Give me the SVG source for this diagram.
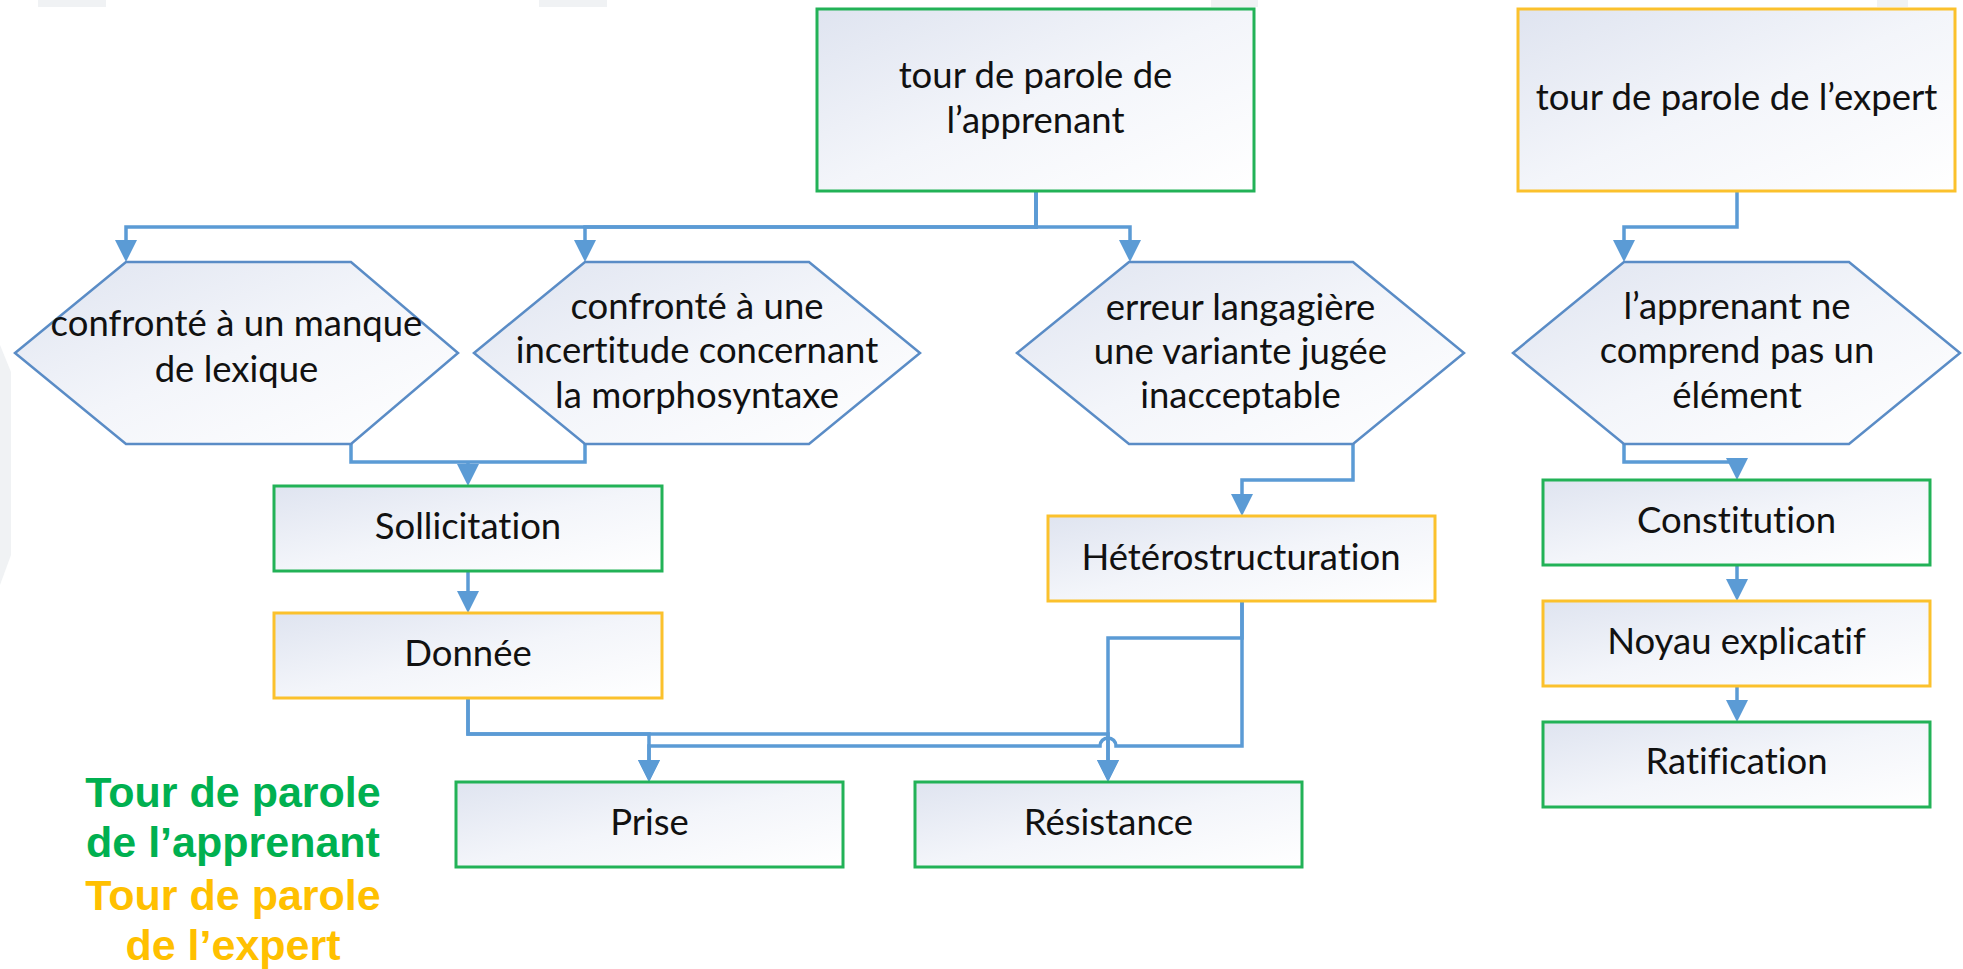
<svg xmlns="http://www.w3.org/2000/svg" width="1963" height="969" viewBox="0 0 1963 969">
<style>
.box{stroke-width:3}
.g{stroke:#22b257}
.y{stroke:#fbc12c}
.hex{stroke:#5a8cc6;stroke-width:2.5}
.t{font-family:Lato,"Liberation Sans",sans-serif;font-size:36.5px;fill:#111;text-anchor:middle;font-variant-ligatures:none}
.conn path{fill:none;stroke:#5b9bd5;stroke-width:3.5;stroke-linejoin:miter}
.leg{font-family:"Liberation Sans",Arial,sans-serif;font-weight:bold;font-size:43px;text-anchor:middle}
.bg{fill:#f0f2f4}
</style>
<defs>
<linearGradient id="fill" x1="0" y1="0" x2="1" y2="1">
<stop offset="0" stop-color="#dfe4f0"/>
<stop offset="0.5" stop-color="#f3f5fa"/>
<stop offset="1" stop-color="#ffffff"/>
</linearGradient>
<marker id="arr" markerUnits="userSpaceOnUse" markerWidth="22" markerHeight="22" refX="14" refY="11" orient="auto">
<path d="M0,0 L22,11 L0,22 Z" fill="#5b9bd5"/>
</marker>
</defs>
<rect width="1963" height="969" fill="#ffffff"/>
<g id="background">
<rect class="bg" x="38" y="0" width="68" height="7"/>
<rect class="bg" x="539" y="0" width="68" height="7"/>
<rect class="bg" x="1211" y="0" width="47" height="7"/>
<rect class="bg" x="1877" y="0" width="31" height="7"/>
<polygon class="bg" points="0,345 11,372 11,555 0,585"/>
</g>

<g class="conn" id="connectors">
<path d="M1036,191 V227 H126 V254" marker-end="url(#arr)"/>
<path d="M1036,191 V227 H585 V254" marker-end="url(#arr)"/>
<path d="M1036,191 V227 H1130 V254" marker-end="url(#arr)"/>
<path d="M1737,191 V227 H1624 V254" marker-end="url(#arr)"/>
<path d="M351,444 V462 H585 V444"/>
<path d="M468,462 V478" marker-end="url(#arr)"/>
<path d="M468,571 V605" marker-end="url(#arr)"/>
<path d="M1353,444 V480 H1242 V508" marker-end="url(#arr)"/>
<path d="M1624,444 V462 H1737 V472" marker-end="url(#arr)"/>
<path d="M1737,565 V593" marker-end="url(#arr)"/>
<path d="M1737,686 V714" marker-end="url(#arr)"/>
<path d="M468,698 V734 H649 V774" marker-end="url(#arr)"/>
<path d="M468,698 V734 H1108 V774" marker-end="url(#arr)"/>
<path d="M1242,601 V638 H1108 V774" marker-end="url(#arr)"/>
<path d="M1242,601 V746 H1116 A8,8 0 0 0 1100,746 H649 V774" marker-end="url(#arr)"/>
</g>

<g id="n-apprenant">
<rect class="box g" x="817" y="9" width="437" height="182" fill="url(#fill)"/>
<text class="t" x="1035.5" y="88">tour de parole de</text>
<text class="t" x="1035.5" y="133">l’apprenant</text>
</g>
<g id="n-expert">
<rect class="box y" x="1518" y="9" width="437" height="182" fill="url(#fill)"/>
<text class="t" x="1736.5" y="110">tour de parole de l’expert</text>
</g>

<g id="n-lexique">
<polygon class="hex" points="126,262 351,262 458,353 351,444 126,444 15,353" fill="url(#fill)"/>
<text class="t" x="236.5" y="336">confronté à un manque</text>
<text class="t" x="236.5" y="382">de lexique</text>
</g>
<g id="n-morpho">
<polygon class="hex" points="585,262 809,262 920,353 809,444 585,444 474,353" fill="url(#fill)"/>
<text class="t" x="697" y="319">confronté à une</text>
<text class="t" x="697" y="363">incertitude concernant</text>
<text class="t" x="697" y="408">la morphosyntaxe</text>
</g>
<g id="n-erreur">
<polygon class="hex" points="1129,262 1353,262 1464,353 1353,444 1129,444 1017,353" fill="url(#fill)"/>
<text class="t" x="1240.5" y="320">erreur langagière</text>
<text class="t" x="1240.5" y="364">une variante jugée</text>
<text class="t" x="1240.5" y="408">inacceptable</text>
</g>
<g id="n-comprend">
<polygon class="hex" points="1624,262 1849,262 1960,353 1849,444 1624,444 1513,353" fill="url(#fill)"/>
<text class="t" x="1737" y="319">l’apprenant ne</text>
<text class="t" x="1737" y="363">comprend pas un</text>
<text class="t" x="1737" y="408">élément</text>
</g>

<g id="n-sollicitation">
<rect class="box g" x="274" y="486" width="388" height="85" fill="url(#fill)"/>
<text class="t" x="468" y="539">Sollicitation</text>
</g>
<g id="n-donnee">
<rect class="box y" x="274" y="613" width="388" height="85" fill="url(#fill)"/>
<text class="t" x="468" y="666">Donnée</text>
</g>
<g id="n-hetero">
<rect class="box y" x="1048" y="516" width="387" height="85" fill="url(#fill)"/>
<text class="t" x="1241" y="570">Hétérostructuration</text>
</g>
<g id="n-prise">
<rect class="box g" x="456" y="782" width="387" height="85" fill="url(#fill)"/>
<text class="t" x="649.5" y="835">Prise</text>
</g>
<g id="n-resistance">
<rect class="box g" x="915" y="782" width="387" height="85" fill="url(#fill)"/>
<text class="t" x="1108.5" y="835">Résistance</text>
</g>
<g id="n-constitution">
<rect class="box g" x="1543" y="480" width="387" height="85" fill="url(#fill)"/>
<text class="t" x="1736.5" y="533">Constitution</text>
</g>
<g id="n-noyau">
<rect class="box y" x="1543" y="601" width="387" height="85" fill="url(#fill)"/>
<text class="t" x="1736.5" y="654">Noyau explicatif</text>
</g>
<g id="n-ratification">
<rect class="box g" x="1543" y="722" width="387" height="85" fill="url(#fill)"/>
<text class="t" x="1736.5" y="774">Ratification</text>
</g>

<g id="legend">
<text class="leg" x="233" y="807" fill="#00b050">Tour de parole</text>
<text class="leg" x="233" y="857" fill="#00b050">de l’apprenant</text>
<text class="leg" x="233" y="910" fill="#ffc000">Tour de parole</text>
<text class="leg" x="233" y="960" fill="#ffc000">de l’expert</text>
</g>
</svg>
